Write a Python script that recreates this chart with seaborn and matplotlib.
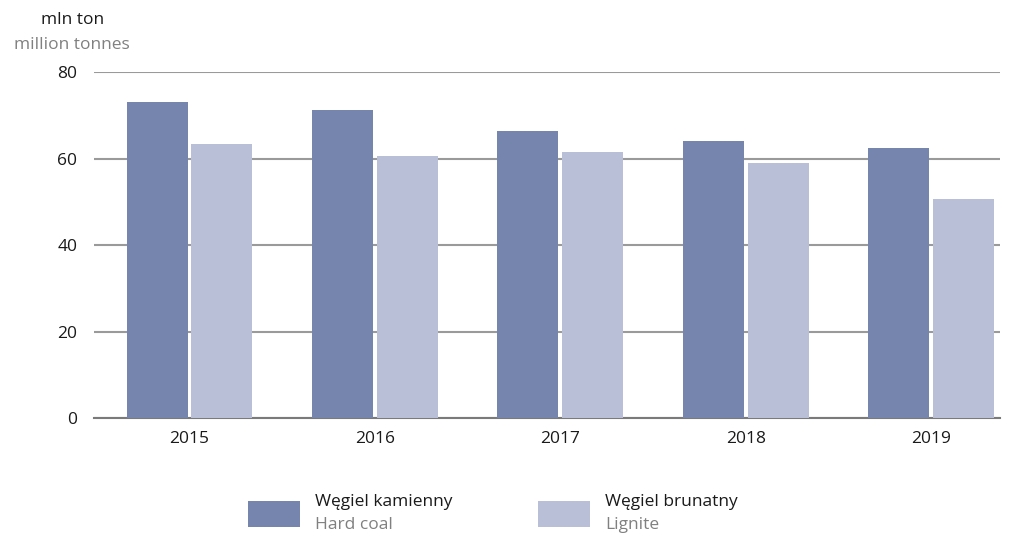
import pandas as pd
import matplotlib.pyplot as plt
import seaborn as sns
from matplotlib.patches import Rectangle

years = ["2015", "2016", "2017", "2018", "2019"]
hard_coal = [73.1, 71.2, 66.4, 64.0, 62.4]
lignite = [63.4, 60.6, 61.5, 59.0, 50.6]
series = ["Węgiel kamienny", "Węgiel brunatny"]
series_en = ["Hard coal", "Lignite"]
colors = ["#7585ae", "#babfd8"]

df = pd.DataFrame({
    "year": years * 2,
    "value": hard_coal + lignite,
    "series": [series[0]] * len(years) + [series[1]] * len(years),
})

sns.set_style("white")
plt.rcParams["font.family"] = ["Open Sans", "DejaVu Sans"]
fs = 12.5

fig = plt.figure(figsize=(10.16, 5.34), dpi=100)
ax = fig.add_axes([0.0925, 0.217, 0.892, 0.648])

sns.barplot(data=df, x="year", y="value", hue="series", palette=colors,
            saturation=1, width=0.7, gap=0.06, linewidth=0, edgecolor="none",
            ax=ax, legend=False, zorder=3)

ax.set_xlim(-0.515, 4.372)
ax.set_ylim(0, 80)
ax.set_yticks([0, 20, 40, 60, 80])
ax.yaxis.grid(True, color="#9a9a9a", linewidth=1.5, zorder=0)
ax.set_axisbelow(True)
for s in ["top", "right", "left"]:
    ax.spines[s].set_visible(False)
ax.spines["bottom"].set_color("#7a7a7a")
ax.spines["bottom"].set_linewidth(1.5)
ax.tick_params(axis="both", length=0, labelsize=fs, colors="#1a1a1a")
ax.tick_params(axis="y", pad=12)
ax.tick_params(axis="x", pad=9)
ax.set_xlabel("")
ax.set_ylabel("")

fig.text(0.071, 1 - 20 / 534, "mln ton", ha="center", va="center", fontsize=fs, color="#1a1a1a")
fig.text(0.071, 1 - 45 / 534, "million tonnes", ha="center", va="center", fontsize=fs, color="#808080")

# legend
leg_x = [248, 538]
for i in range(2):
    x0 = leg_x[i] / 1016
    fig.patches.append(Rectangle((x0, 1 - 527 / 534), 52 / 1016, 26 / 534,
                                 transform=fig.transFigure, color=colors[i], linewidth=0))
    fig.text(x0 + 67 / 1016, 1 - 502 / 534, series[i], ha="left", va="center",
             fontsize=fs, color="#1a1a1a")
    fig.text(x0 + 67 / 1016, 1 - 525 / 534, series_en[i], ha="left", va="center",
             fontsize=fs, color="#808080")

fig.savefig("out.png", dpi=100)
